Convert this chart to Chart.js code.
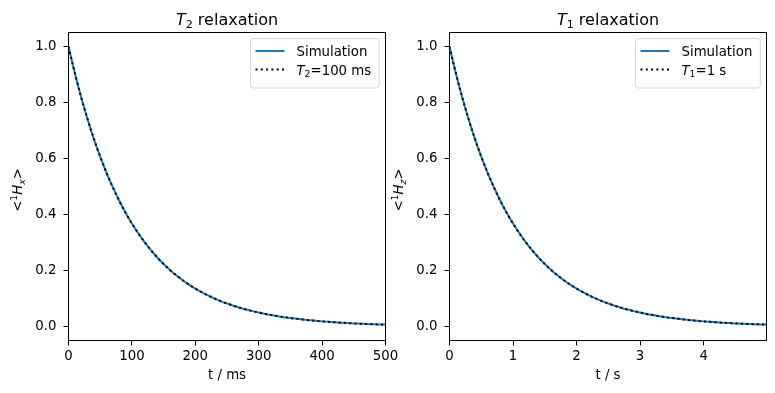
<!DOCTYPE html>
<html><head><meta charset="utf-8">
<script src="https://cdn.jsdelivr.net/npm/chart.js@4"></script>
<style>
html,body{margin:0;padding:0;background:#fff;}
#wrap{position:relative;width:775px;height:393px;}
canvas{position:absolute;left:0;top:0;}
</style>
</head><body>
<div id="wrap"><canvas id="c1" width="775" height="393"></canvas><canvas id="c2" width="775" height="393"></canvas></div>
<script>
// ---- data ----
const t2Times = [0,10,20,30,40,50,60,70,80,90,100,110,120,130,140,150,160,170,180,190,200,210,220,230,240,250,260,270,280,290,300,310,320,330,340,350,360,370,380,390,400,410,420,430,440,450,460,470,480,490,500];
const t2Sim = [1.0000,0.9048,0.8187,0.7408,0.6703,0.6065,0.5488,0.4966,0.4493,0.4066,0.3679,0.3329,0.3012,0.2725,0.2466,0.2231,0.2019,0.1827,0.1653,0.1496,0.1353,0.1225,0.1108,0.1003,0.0907,0.0821,0.0743,0.0672,0.0608,0.0550,0.0498,0.0450,0.0408,0.0369,0.0334,0.0302,0.0273,0.0247,0.0224,0.0202,0.0183,0.0166,0.0150,0.0136,0.0123,0.0111,0.0101,0.0091,0.0082,0.0074,0.0067];
const t2Fit = [1.0000,0.9048,0.8187,0.7408,0.6703,0.6065,0.5488,0.4966,0.4493,0.4066,0.3679,0.3329,0.3012,0.2725,0.2466,0.2231,0.2019,0.1827,0.1653,0.1496,0.1353,0.1225,0.1108,0.1003,0.0907,0.0821,0.0743,0.0672,0.0608,0.0550,0.0498,0.0450,0.0408,0.0369,0.0334,0.0302,0.0273,0.0247,0.0224,0.0202,0.0183,0.0166,0.0150,0.0136,0.0123,0.0111,0.0101,0.0091,0.0082,0.0074,0.0067];
const t1Times = [0,0.1,0.2,0.3,0.4,0.5,0.6,0.7,0.8,0.9,1.0,1.1,1.2,1.3,1.4,1.5,1.6,1.7,1.8,1.9,2.0,2.1,2.2,2.3,2.4,2.5,2.6,2.7,2.8,2.9,3.0,3.1,3.2,3.3,3.4,3.5,3.6,3.7,3.8,3.9,4.0,4.1,4.2,4.3,4.4,4.5,4.6,4.7,4.8,4.9,4.99];
const t1Sim = [1.0000,0.9048,0.8187,0.7408,0.6703,0.6065,0.5488,0.4966,0.4493,0.4066,0.3679,0.3329,0.3012,0.2725,0.2466,0.2231,0.2019,0.1827,0.1653,0.1496,0.1353,0.1225,0.1108,0.1003,0.0907,0.0821,0.0743,0.0672,0.0608,0.0550,0.0498,0.0450,0.0408,0.0369,0.0334,0.0302,0.0273,0.0247,0.0224,0.0202,0.0183,0.0166,0.0150,0.0136,0.0123,0.0111,0.0101,0.0091,0.0082,0.0074,0.0068];
const t1Fit = [1.0000,0.9048,0.8187,0.7408,0.6703,0.6065,0.5488,0.4966,0.4493,0.4066,0.3679,0.3329,0.3012,0.2725,0.2466,0.2231,0.2019,0.1827,0.1653,0.1496,0.1353,0.1225,0.1108,0.1003,0.0907,0.0821,0.0743,0.0672,0.0608,0.0550,0.0498,0.0450,0.0408,0.0369,0.0334,0.0302,0.0273,0.0247,0.0224,0.0202,0.0183,0.0166,0.0150,0.0136,0.0123,0.0111,0.0101,0.0091,0.0082,0.0074,0.0068];
const leftXTicks = [0,100,200,300,400,500];
const rightXTicks = [0,1,2,3,4];
const yTicks = [0.0,0.2,0.4,0.6,0.8,1.0];

// ---- styling ----
const FAM = "'DejaVu Sans', sans-serif";
const FS = 13.3;
const YW = 52;
const LW = 2;
const DOT = [2, 3.3];

function font(size, italic){ return (italic ? 'italic ' : '') + size + 'px ' + FAM; }

function drawRich(ctx, parts, x, y, align){
  let w = 0;
  parts.forEach(p => { ctx.font = p.font; p.w = ctx.measureText(p.t).width; w += p.w; });
  let cx = align === 'center' ? x - w/2 : x;
  ctx.textAlign = 'left'; ctx.textBaseline = 'alphabetic';
  parts.forEach(p => { ctx.font = p.font; ctx.fillText(p.t, cx, y + (p.dy||0)); cx += p.w; });
  return w;
}

function makeChart(id, cfg){
  const decor = {
    id: 'decor',
    afterDraw(chart){
      const ctx = chart.ctx, a = chart.chartArea;
      ctx.save();
      // frame
      ctx.strokeStyle = '#000'; ctx.lineWidth = 1;
      ctx.strokeRect(a.left, a.top, a.right - a.left, a.bottom - a.top);
      ctx.fillStyle = '#000';
      // title
      drawRich(ctx, [
        {t:'T', font: font(16, true)},
        {t:cfg.sub, font: font(11.2), dy: 3},
        {t:' relaxation', font: font(16)}
      ], (a.left + a.right)/2, 25, 'center');
      // y label
      ctx.save();
      ctx.translate(a.left - 46.5, 190);
      ctx.rotate(-Math.PI/2);
      drawRich(ctx, [
        {t:'<', font: font(FS)},
        {t:'1', font: font(9.3), dy: -5},
        {t:'H', font: font(FS, true)},
        {t:cfg.ysub, font: font(9.3, true), dy: 3},
        {t:'>', font: font(FS)}
      ], 0, 0, 'center');
      ctx.restore();
      // legend
      ctx.font = font(FS);
      const w1 = ctx.measureText('Simulation').width;
      ctx.font = font(FS, true); let w2 = ctx.measureText('T').width;
      ctx.font = font(9.3); w2 += ctx.measureText(cfg.sub).width;
      ctx.font = font(FS); w2 += ctx.measureText(cfg.legRest).width;
      const tw = Math.max(w1, w2);
      const bw = 5 + 29 + 12 + tw + 8, bh = 49.5;
      const bx = Math.round(a.right - 6.5 - bw) + 0.5, by = a.top + 6;
      ctx.beginPath();
      if (ctx.roundRect) ctx.roundRect(bx, by, bw, bh, 3); else ctx.rect(bx, by, bw, bh);
      ctx.fillStyle = 'rgba(255,255,255,0.8)'; ctx.fill();
      ctx.strokeStyle = '#d6d6d6'; ctx.lineWidth = 1; ctx.stroke();
      const r1 = by + 12.5, r2 = by + 31;
      ctx.lineWidth = LW;
      ctx.strokeStyle = '#1f77b4'; ctx.setLineDash([]);
      ctx.beginPath(); ctx.moveTo(bx + 5, r1); ctx.lineTo(bx + 34, r1); ctx.stroke();
      ctx.strokeStyle = '#000'; ctx.setLineDash(DOT);
      ctx.beginPath(); ctx.moveTo(bx + 5, r2); ctx.lineTo(bx + 34, r2); ctx.stroke();
      ctx.setLineDash([]);
      ctx.fillStyle = '#000';
      drawRich(ctx, [{t:'Simulation', font: font(FS)}], bx + 46, r1 + 5, 'left');
      drawRich(ctx, [
        {t:'T', font: font(FS, true)},
        {t:cfg.sub, font: font(9.3), dy: 2.5},
        {t:cfg.legRest, font: font(FS)}
      ], bx + 46, r2 + 5, 'left');
      ctx.restore();
    }
  };
  return new Chart(document.getElementById(id), {
    type: 'line',
    data: {
      datasets: [
        { label: 'Simulation', data: cfg.times.map((t,i)=>({x:t, y:cfg.sim[i]})),
          borderColor: '#1f77b4', borderWidth: LW, pointRadius: 0, fill: false,
          cubicInterpolationMode: 'monotone', order: 1 },
        { label: 'fit', data: cfg.times.map((t,i)=>({x:t, y:cfg.fit[i]})),
          borderColor: '#000', borderWidth: LW, borderDash: DOT, pointRadius: 0, fill: false,
          cubicInterpolationMode: 'monotone', order: 0 }
      ]
    },
    options: {
      responsive: false, animation: false, devicePixelRatio: 1,
      layout: { padding: { left: cfg.left - YW, right: 775 - cfg.right, top: 32.5, bottom: 0 } },
      plugins: { legend: {display:false}, title: {display:false}, tooltip: {enabled:false} },
      scales: {
        x: {
          type: 'linear', min: cfg.xmin, max: cfg.xmax,
          afterBuildTicks: s => { s.ticks = cfg.xticks.map(v => ({value: v})); },
          afterFit: s => { s.height = 52.5; },
          ticks: { color: '#000', font: {family: FAM, size: FS}, padding: 3, maxRotation: 0, autoSkip: false,
                   callback: v => String(v) },
          grid: { drawOnChartArea: false, drawTicks: true, tickLength: 5, tickColor: '#000', tickWidth: 1 },
          border: { display: false },
          title: { display: true, text: cfg.xlabel, color: '#000', font: {family: FAM, size: FS},
                   padding: {top: 9, bottom: 9} }
        },
        y: {
          type: 'linear', min: -0.05, max: 1.05,
          afterBuildTicks: s => { s.ticks = yTicks.map(v => ({value: v})); },
          afterFit: s => { s.width = YW; },
          ticks: { color: '#000', font: {family: FAM, size: FS}, padding: 7, autoSkip: false,
                   callback: v => Number(v).toFixed(1) },
          grid: { drawOnChartArea: false, drawTicks: true, tickLength: 5, tickColor: '#000', tickWidth: 1 },
          border: { display: false }
        }
      }
    },
    plugins: [decor]
  });
}

makeChart('c1', { times: t2Times, sim: t2Sim, fit: t2Fit, xmin: 0, xmax: 500, xticks: leftXTicks,
  xlabel: 't / ms', sub: '2', ysub: 'x', legRest: '=100 ms', left: 68.5, right: 385.5 });
makeChart('c2', { times: t1Times, sim: t1Sim, fit: t1Fit, xmin: 0, xmax: 4.99, xticks: rightXTicks,
  xlabel: 't / s', sub: '1', ysub: 'z', legRest: '=1 s', left: 449.5, right: 766.5 });
</script>
</body></html>
